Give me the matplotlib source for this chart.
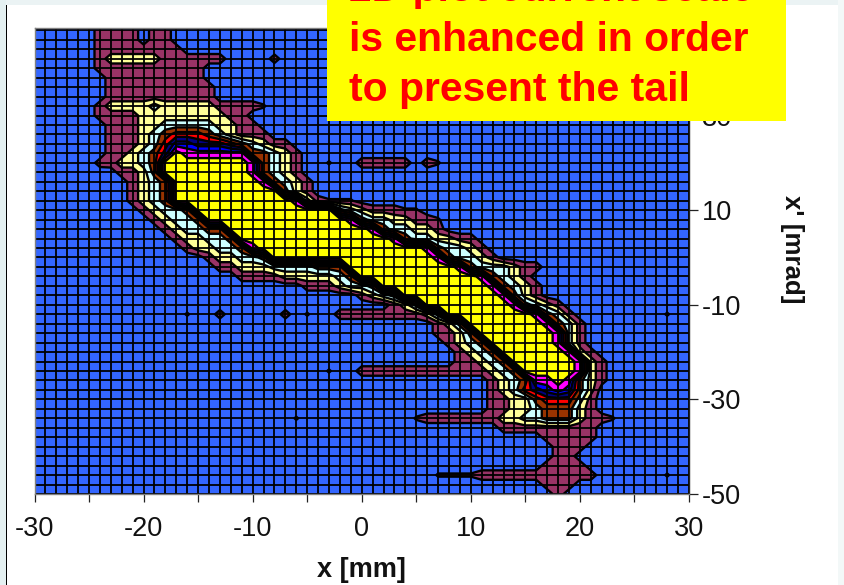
import numpy as np
import matplotlib
matplotlib.use('Agg')
import matplotlib.pyplot as plt
from matplotlib.patches import Rectangle

# current level read per grid node, one string per row from x'=48 down to x'=-50
# columns are x=-30..30 in groups of ten, '.' and ',' are the tiny islands below level 1
ROWS = [
    "0000001111 0110000000",
    "0000001111 0110000000",
    "0000001111 1111000000",
    "0000001222 2211111100 00,0000000",
    "0000001111 1111110000",
    "0000000111 1111110000",
    "0000000111 1111111000",
    "0000000111 1111111000",
    "0000001222 2322222111 1.00000000",
    "0000001111 2222222211",
    "0000000111 2233333221 1",
    "0000000111 2345554321 11",
    "0000000111 2357766654 3211",
    "0000000112 3469888888 44321",
    "000000,122 3499999999 8432100.00 1111101.00",
    "0000000011 2499999999 84321",
    "0000000001 2349999999 984321",
    "0000000001 2349999999 999421",
    "0000000001 2349999999 9999831...",
    "0000000000 1233499999 9999999943 2111..0000",
    "0000000000 0123349999 9999999998 4332211.00",
    "0000000000 0012334499 9999999999 9843322100",
    "0000000000 0001223349 9999999999 9998433221 1",
    "0000000000 0000122334 8999999999 9999998433 21",
    "0000000000 0000001223 3499999999 9999999843 321",
    "0000000000 0000000112 2233334449 9999999998 4333211",
    "0000000000 0000000001 1112222234 9999999999 984321",
    "0000000000 0000000000 0000011123 3499999999 9984321",
    "0000000000 0000000000 0000000000 1234999999 9998421",
    "0000000000 0000000000 0000000000 0001249999 999984321",
    "0000000000 0000.00,00 000,0.0011 1111112499 9999998431 00000000.0",
    "0000000000 0000000000 0000000000 0000000124 9999999843 1",
    "0000000000 0000000000 0000000000 0000000112 4999999983 1",
    "0000000000 0000000000 0000000000 0000000012 3499999983 1",
    "0000000000 0000000000 0000000000 0000000001 2349999998 2,",
    "0000000000 0000000000 0000000000 0000000001 1234999999 82,",
    "0000000000 0000000000 0000000.00 1111111111 1123499999 82,",
    "0000000000 0000000000 0000000000 0000000000 0012348898 42,",
    "0000000000 0000000000 0000000000 0000000000 0012356787 42",
    "0000000000 0000000000 0000000000 0000000000 0011224555 31",
    "0000000000 0000000000 0000000000 0000000000 0011223444 21",
    "0000000000 0000000000 0000.00000 00000.1111 1112233444 211.",
    "0000000000 0000000000 0000000000 0000000000 0001111111 11",
    "0000000000 0000000000 0000000000 0000000000 0000000111 11",
    "0000000000 0000000000 0000000000 0000000000 0000000011 1",
    "0000000000 0000000000 0000000000 0000000000 0000000011",
    "0000000000 0000000000 0000000000 0000000000 0000000111 1",
    "0000000000 0000000000 0000000000 0000000... .111111111 11000000.0",
    "0000000000 0000000000 0000000000 0000000000 0000000111",
    "0000000000 0000000000 0000000000 0000000000 0000000010",
]
SMALL = {'.': 0.6, ',': 0.9}

x_mm = np.arange(-30, 31)
x_prime = np.arange(48, -52, -2)

band_edges = [-1, 0.5, 1.5, 2.5, 3.5, 4.5, 5.5, 6.5, 7.5, 8.5, 10]
band_colors = ['#3366FF', '#993366', '#FFFF99', '#CCFFFF', '#993300',
               '#FF0000', '#000080', '#0000FF', '#FF00FF', '#FFFF00']
line_levels = [0.5, 1.5, 2.5, 3.5, 4.5, 5.5, 6.5, 7.5, 8.5]

x_ticks = [-30, -20, -10, 0, 10, 20, 30]
y_ticks = [-50, -30, -10, 10, 30]
note_lines = ["2D plot current scale", "is enhanced in order", "to present the tail"]

W, H = 845, 585


def parse_rows(rows):
    grid = np.zeros((len(rows), len(x_mm)))
    for i, row in enumerate(rows):
        chars = row.replace(' ', '')
        for j, ch in enumerate(chars):
            grid[i, j] = SMALL[ch] if ch in SMALL else int(ch)
    return grid


plt.rcParams['font.family'] = ['Liberation Sans', 'DejaVu Sans']
plt.rcParams['axes.unicode_minus'] = False
fig = plt.figure(figsize=(W / 100, H / 100), dpi=100)

# slide background around the chart
fig.add_artist(Rectangle((0, 1 - 5 / H), 1, 5 / H, transform=fig.transFigure, color='#EBF3F4', lw=0))
fig.add_artist(Rectangle((0, 0), 6 / W, 1, transform=fig.transFigure, color='#E4F0F1', lw=0))
fig.add_artist(Rectangle((6 / W, 0), 1.3 / W, 1 - 5 / H, transform=fig.transFigure, color='black', lw=0))
fig.add_artist(Rectangle((838 / W, 0), 7 / W, 1, transform=fig.transFigure, color='#F3F8F8', lw=0))

ax = fig.add_axes([34.5 / W, 1 - 494 / H, 654.5 / W, 466 / H])
ax.set_facecolor('#3366FF')

grid = parse_rows(ROWS)
ax.contourf(x_mm, x_prime, grid, levels=band_edges, colors=band_colors)
ax.contour(x_mm, x_prime, grid, levels=line_levels, colors='black', linewidths=1.7)

ax.vlines(x_mm, -50, 48.5, color='black', lw=1.3)
ax.hlines(x_prime, -30, 30, color='black', lw=1.3)

ax.yaxis.tick_right()
ax.set_xticks(x_ticks)
ax.set_xticks(np.arange(-30, 31, 5), minor=True)
ax.set_yticks(y_ticks)
ax.set_xlim(-30, 30)
ax.set_ylim(-50, 48.5)
ax.tick_params(axis='x', which='major', length=6, width=0.9, color='#222222', pad=10, labelsize=19.5, labelcolor='#111111')
ax.tick_params(axis='x', which='minor', length=6, width=0.9, color='#222222')
ax.tick_params(axis='y', which='major', length=6.5, width=0.9, color='#222222', pad=3, labelsize=19.5, labelcolor='#111111')
for name, spine in ax.spines.items():
    spine.set_color('#808080' if name != 'right' else '#222222')
    spine.set_linewidth(1)

fig.text(361 / W, 1 - 570 / H, "x [mm]", ha='center', va='center', fontsize=19.5, fontweight='bold', color='#111111')
fig.text(792 / W, 1 - 249 / H, "x' [mrad]", ha='center', va='center', rotation=270, fontsize=18.6, fontweight='bold', color='#111111')

# yellow note on top of the chart, first line runs off the slide
fig.add_artist(Rectangle((327 / W, 1 - 121 / H), 459 / W, 121 / H, transform=fig.transFigure, color='#FFFF00', lw=0, zorder=5))
for i, line in enumerate(note_lines):
    fig.text(349 / W, 1 - (1 + 50 * i) / H, line, ha='left', va='baseline', fontsize=29.4, fontweight='bold', color='#FF0000', zorder=6)

fig.savefig('out.png', dpi=100)
